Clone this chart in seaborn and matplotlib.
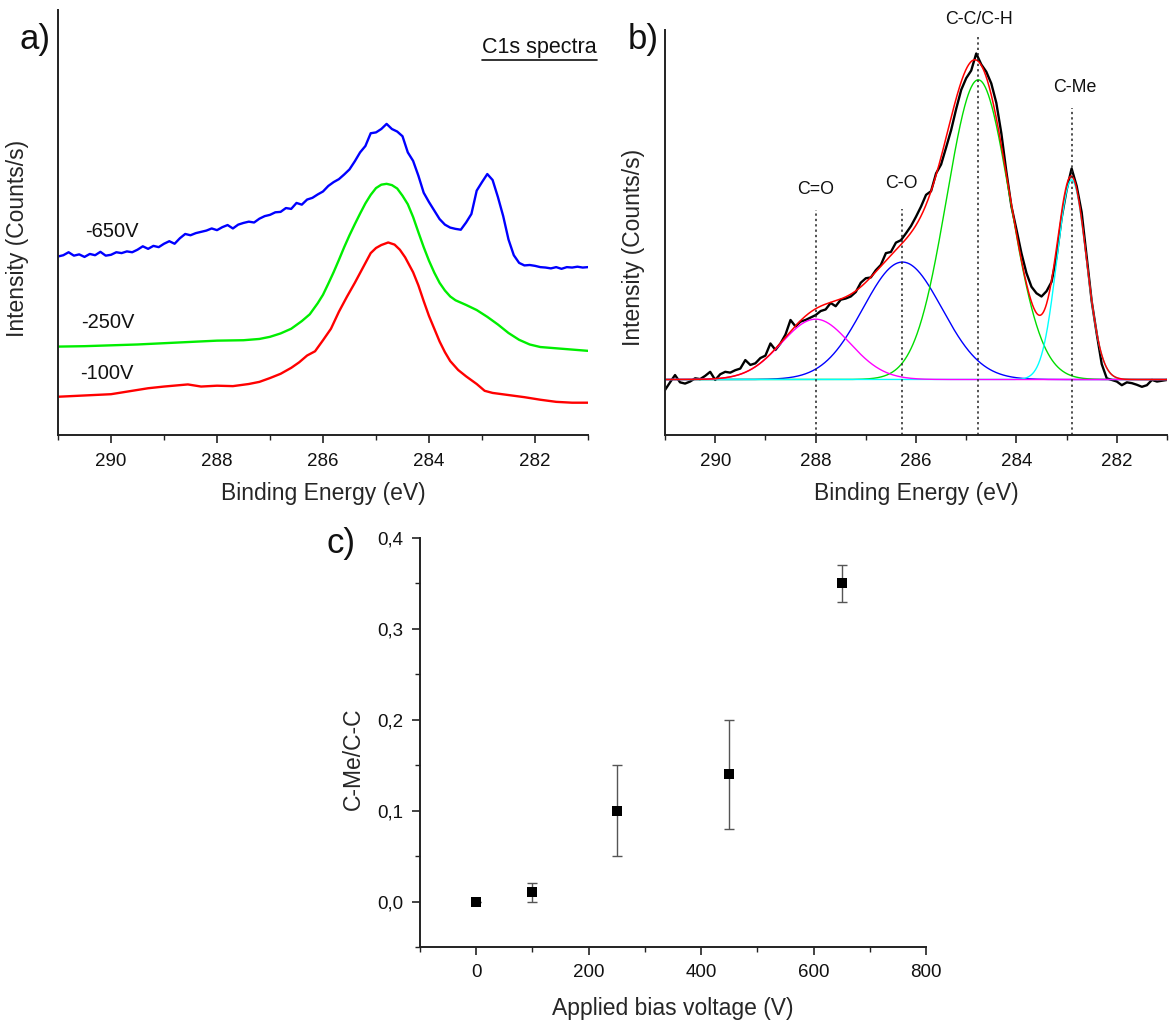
import numpy as np
import pandas as pd
import matplotlib
matplotlib.use("Agg")
import matplotlib.pyplot as plt
from matplotlib.ticker import MultipleLocator, FuncFormatter
from matplotlib.lines import Line2D
import seaborn as sns

sns.set_theme(style="ticks")
plt.rcParams['font.family'] = ['Liberation Sans', 'DejaVu Sans']

# ---------------- Panel a data (C1s spectra at three bias voltages) ----------------
energy_650 = np.round(np.linspace(291.0, 281.0, 101), 2)
int_650 = [42.0, 42.3, 43.0, 42.2, 42.5, 41.9, 42.6, 42.3, 43.1, 42.2,
           42.4, 43.0, 42.8, 43.2, 43.0, 43.6, 44.4, 43.8, 44.5, 44.2,
           45.0, 45.6, 45.0, 46.3, 47.3, 47.0, 47.5, 47.8, 48.1, 48.6,
           48.2, 48.9, 49.4, 48.6, 49.5, 49.9, 50.2, 50.0, 50.9, 51.5,
           51.8, 52.4, 52.5, 53.4, 53.2, 54.6, 54.2, 55.4, 55.8, 56.6,
           57.3, 58.6, 59.5, 60.2, 61.3, 62.5, 64.4, 66.5, 68.0, 71.0,
           71.2, 72.0, 73.2, 72.0, 71.4, 70.3, 66.5, 64.5, 61.0, 57.0,
           54.8, 52.8, 50.8, 49.5, 48.8, 48.5, 48.3, 50.0, 52.0, 57.5,
           59.5, 61.4, 60.0, 56.0, 51.5, 46.0, 42.3, 40.5, 39.9, 40.0,
           39.8, 39.5, 39.4, 39.2, 39.5, 39.1, 39.5, 39.4, 39.6, 39.4, 39.5]

energy_250 = [291.0, 290.5, 290.0, 289.5, 289.0, 288.5, 288.0, 287.5, 287.2, 287.0,
              286.8, 286.6, 286.4, 286.25, 286.1, 286.0, 285.9, 285.8, 285.7, 285.6,
              285.5, 285.4, 285.3, 285.2, 285.1, 285.0, 284.9, 284.8, 284.7, 284.6,
              284.5, 284.4, 284.3, 284.2, 284.1, 284.0, 283.9, 283.8, 283.7, 283.6,
              283.5, 283.3, 283.1, 282.9, 282.7, 282.5, 282.3, 282.1, 281.9, 281.5,
              281.2, 281.0]
int_250 = [20.8, 20.9, 21.1, 21.3, 21.6, 21.9, 22.2, 22.3, 22.6, 23.1,
           23.9, 25.0, 26.8, 28.4, 31.0, 33.0, 35.6, 38.3, 41.2, 44.2,
           47.0, 49.6, 52.1, 54.5, 56.5, 58.1, 58.9, 59.1, 58.8, 58.0,
           56.3, 54.3, 51.3, 47.7, 44.2, 41.0, 38.2, 35.8, 34.0, 32.6,
           31.7, 30.6, 29.4, 27.8, 26.0, 24.0, 22.4, 21.3, 20.7, 20.3,
           20.0, 19.8]

energy_100 = [291.0, 290.5, 290.0, 289.6, 289.3, 289.0, 288.55, 288.3, 288.0, 287.7,
              287.4, 287.2, 287.0, 286.8, 286.6, 286.45, 286.3, 286.15, 286.0, 285.85,
              285.7, 285.55, 285.4, 285.25, 285.1, 285.0, 284.9, 284.77, 284.65, 284.55,
              284.45, 284.3, 284.2, 284.1, 284.0, 283.9, 283.8, 283.7, 283.6, 283.45,
              283.3, 283.1, 282.95, 282.8, 282.5, 282.2, 281.9, 281.6, 281.3, 281.0]
int_100 = [9.0, 9.3, 9.6, 10.4, 11.0, 11.4, 11.9, 11.4, 11.6, 11.5,
           12.0, 12.5, 13.4, 14.4, 15.8, 17.1, 18.7, 19.7, 22.3, 25.0,
           29.0, 32.5, 35.8, 39.3, 42.8, 44.0, 44.7, 45.3, 44.8, 43.6,
           41.8, 38.3, 35.2, 31.5, 28.0, 25.0, 22.0, 19.5, 17.4, 15.3,
           13.8, 12.0, 10.4, 9.9, 9.4, 8.9, 8.3, 7.8, 7.6, 7.6]

series_labels = ["-650V", "-250V", "-100V"]

# ---------------- Panel b data (measured spectrum + fitted components) ----------------
energy_b = np.round(np.linspace(291.0, 281.0, 101), 2)
int_b = [11.1, 13.0, 14.8, 13.0, 12.7, 13.2, 14.0, 13.8, 14.6, 15.6,
         13.6, 15.0, 15.6, 15.4, 16.0, 16.4, 18.5, 17.3, 17.7, 19.0,
         19.6, 22.6, 21.0, 22.6, 24.8, 28.4, 26.8, 28.0, 28.4, 29.0,
         29.6, 30.6, 31.0, 32.6, 31.8, 33.4, 33.7, 34.2, 35.3, 37.6,
         38.7, 38.9, 40.7, 42.0, 44.9, 45.2, 47.5, 48.1, 49.8, 51.6,
         53.9, 56.4, 59.3, 60.2, 64.6, 66.8, 71.0, 75.3, 80.5, 85.2,
         88.1, 90.0, 94.2, 91.5, 89.7, 86.8, 82.0, 74.5, 65.0, 56.5,
         50.8, 44.9, 40.0, 36.6, 35.0, 34.2, 35.5, 37.8, 44.0, 53.5,
         60.5, 65.8, 61.5, 55.0, 44.0, 33.0, 25.0, 17.5, 14.0, 13.6,
         13.2, 12.3, 13.0, 12.8, 12.4, 11.9, 12.3, 13.6, 13.2, 13.4, 13.6]

baseline_b = 13.7
peak_names = ["C=O", "C-O", "C-C/C-H", "C-Me"]
peak_centers = [288.0, 286.27, 284.76, 282.90]
peak_heights = [14.9, 29.0, 74.0, 49.3]
peak_fwhm = [1.60, 1.85, 1.48, 0.69]
peak_colors = ["#ff00ff", "#0000ff", "#00dd00", "#00ffff"]
label_energy = [287.99, 286.30, 284.74, 282.83]
label_int = [60.5, 62.2, 102.5, 85.7]
vline_top = [55.6, 55.8, 98.3, 80.7]

# ---------------- Panel c data ----------------
bias_voltage = [0, 100, 250, 450, 650]
ratio_cme_cc = [0.0, 0.01, 0.10, 0.14, 0.35]
ratio_err = [0.0, 0.01, 0.05, 0.06, 0.02]

# ---------------- Figure ----------------
W, H = 1169, 1023
fig = plt.figure(figsize=(W / 100, H / 100), dpi=100)

def px_axes(l, t, r, b):
    return fig.add_axes([l / W, 1 - b / H, (r - l) / W, (b - t) / H])

axis_col = "#222222"
tick_fs = 13.5
label_fs = 16.5

def style_axes(ax, pad=8):
    for s in ["top", "right"]:
        ax.spines[s].set_visible(False)
    for s in ["left", "bottom"]:
        ax.spines[s].set_color(axis_col)
        ax.spines[s].set_linewidth(1.4)
    ax.tick_params(axis="both", which="major", direction="out", length=6, width=1.2,
                   color=axis_col, labelsize=tick_fs, labelcolor="#111111", pad=pad)
    ax.tick_params(axis="both", which="minor", direction="out", length=3.5, width=1.0,
                   color=axis_col)

# ---- Panel a ----
ax_a = px_axes(58, 10, 588, 435)
sns.lineplot(x=energy_650, y=int_650, ax=ax_a, color="#0000ff", lw=1.7, sort=False)
sns.lineplot(x=energy_250, y=int_250, ax=ax_a, color="#00ee00", lw=1.7, sort=False)
sns.lineplot(x=energy_100, y=int_100, ax=ax_a, color="#ff0000", lw=1.7, sort=False)
ax_a.set_xlim(291, 281)
ax_a.set_ylim(0, 100)
style_axes(ax_a, pad=7)
ax_a.set_yticks([])
ax_a.xaxis.set_major_locator(MultipleLocator(2))
ax_a.xaxis.set_minor_locator(MultipleLocator(1))
ax_a.set_xlabel("Binding Energy (eV)", fontsize=label_fs)
ax_a.xaxis.set_label_coords(0.5, -0.111)
ax_a.set_ylabel("Intensity (Counts/s)", fontsize=label_fs)
ax_a.yaxis.set_label_coords(-0.055, 0.4635)
for lab, (ex, iy) in zip(series_labels, [(289.98, 47.8), (290.06, 26.4), (290.07, 14.4)]):
    ax_a.text(ex, iy, lab, fontsize=14.5, ha="center", va="center", color="#111111")
t_c1s = ax_a.text(0.908, 0.912, "C1s spectra", transform=ax_a.transAxes, fontsize=15.5,
                  ha="center", va="center", color="#111111")

# ---- Panel b ----
ax_b = px_axes(665, 30, 1167, 435)
sns.lineplot(x=energy_b, y=int_b, ax=ax_b, color="black", lw=1.7, sort=False)
e_dense = np.linspace(291.0, 281.0, 1001)
envelope = np.full_like(e_dense, baseline_b)
comp_frames = []
for name, c, h, fw, col in zip(peak_names, peak_centers, peak_heights, peak_fwhm, peak_colors):
    sig = fw / 2.3548
    comp = h * np.exp(-0.5 * ((e_dense - c) / sig) ** 2)
    envelope = envelope + comp
    comp_frames.append((comp + baseline_b, col))
for order in [1, 2, 3, 0]:
    yv, col = comp_frames[order]
    sns.lineplot(x=e_dense, y=yv, ax=ax_b, color=col, lw=1.0, sort=False)
sns.lineplot(x=e_dense, y=envelope, ax=ax_b, color="#ff0000", lw=1.1, sort=False)
for name, c, le, li, vt in zip(peak_names, peak_centers, label_energy, label_int, vline_top):
    ax_b.plot([c, c], [0, vt], ls=(0, (1.5, 2.0)), color="#222222", lw=1.1)
    ax_b.text(le, li, name, fontsize=12.8, ha="center", va="center", color="#111111",
              clip_on=False)
ax_b.set_xlim(291, 281)
ax_b.set_ylim(0, 100)
style_axes(ax_b, pad=7)
ax_b.set_yticks([])
ax_b.xaxis.set_major_locator(MultipleLocator(2))
ax_b.xaxis.set_minor_locator(MultipleLocator(1))
ax_b.set_xlabel("Binding Energy (eV)", fontsize=label_fs)
ax_b.xaxis.set_label_coords(0.5, -0.116)
ax_b.set_ylabel("Intensity (Counts/s)", fontsize=label_fs)
ax_b.yaxis.set_label_coords(-0.040, 0.462)

# ---- Panel c ----
ax_c = px_axes(420, 538, 926, 947)
ax_c.errorbar(bias_voltage, ratio_cme_cc, yerr=ratio_err, fmt="none", ecolor="#555555",
              elinewidth=1.0, capsize=3.5, capthick=1.0, zorder=2)
sns.scatterplot(x=bias_voltage, y=ratio_cme_cc, ax=ax_c, marker="s", color="black",
                s=60, edgecolor="black", linewidth=0, zorder=3)
ax_c.set_xlim(-100, 800)
ax_c.set_ylim(-0.05, 0.4)
style_axes(ax_c, pad=6)
ax_c.xaxis.set_major_locator(MultipleLocator(200))
ax_c.xaxis.set_minor_locator(MultipleLocator(100))
ax_c.yaxis.set_major_locator(MultipleLocator(0.1))
ax_c.yaxis.set_minor_locator(MultipleLocator(0.05))
ax_c.yaxis.set_major_formatter(FuncFormatter(lambda v, p: f"{v:.1f}".replace(".", ",")))
ax_c.set_xlabel("Applied bias voltage (V)", fontsize=label_fs)
ax_c.xaxis.set_label_coords(0.5, -0.122)
ax_c.set_ylabel("C-Me/C-C", fontsize=label_fs)
ax_c.yaxis.set_label_coords(-0.109, 0.46)

# panel letters
fig.text(35 / W, 1 - 39 / H, "a)", fontsize=25, ha="center", va="center", color="#111111")
fig.text(643 / W, 1 - 39 / H, "b)", fontsize=25, ha="center", va="center", color="#111111")
fig.text(341 / W, 1 - 543 / H, "c)", fontsize=25, ha="center", va="center", color="#111111")

# underline for "C1s spectra"
fig.canvas.draw()
bb = t_c1s.get_window_extent(renderer=fig.canvas.get_renderer())
y_ul = (bb.y0 - 2) / H
fig.add_artist(Line2D([bb.x0 / W, bb.x1 / W], [y_ul, y_ul], color="#111111", lw=1.2))

fig.savefig("out.png", dpi=100)
